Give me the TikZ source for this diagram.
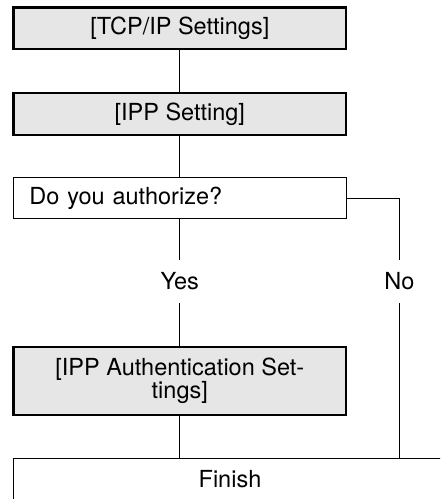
\documentclass[tikz,border=0pt]{standalone}
\usepackage{fontspec}
\setmainfont{TeX Gyre Heros}
\definecolor{boxgray}{RGB}{230, 230, 230}
\usepackage{tikz}
\usetikzlibrary{positioning, calc}

\begin{document}
\begin{tikzpicture}[x=1pt, y=-1pt,
    every node/.style={font=\fontsize{23.5}{22}\selectfont},
    setbox/.style={draw, line width=2.3pt, fill=boxgray, minimum width=332.5pt, inner sep=0pt, align=center},
    askbox/.style={draw, line width=1pt, minimum width=332.7pt, minimum height=40.4pt, text width=300.7pt, inner xsep=16pt, inner ysep=0pt, align=left},
    answer/.style={inner sep=0pt, minimum height=43pt},
    link/.style={line width=1pt}]
      \useasboundingbox (0,0) rectangle (440,499);
      \clip (0,0) rectangle (440,499);
      \node[setbox, minimum height=41.7pt] (tcpip) at (179.8,28.3) {[TCP/IP Settings]};
      \node[setbox, minimum height=41.6pt] (ipp) at (179.8,114) {[IPP Setting]};
      \node[askbox] (ask) at (179.8,198) {Do you authorize?};
      \node[answer] (yes) at (179.8,281.5) {Yes};
      \node[answer] (no) at (399.5,281.5) {No};
      \node[setbox, minimum height=68pt] (auth) at (179.8,381.2) {[IPP Authentication Set-\\tings]};
      \node[draw, line width=1pt, minimum width=434pt, minimum height=42pt, inner sep=0pt] (finish) at (230,479.5) {Finish};
      \draw[link] (tcpip) -- (ipp);
      \draw[link] (ipp) -- (ask);
      \draw[link] (ask) -- (yes);
      \draw[link] (yes) -- (auth);
      \draw[link] (ask.east) -| (no.north);
      \draw[link] (no.south) -- (no.south |- finish.north);
      \draw[link] (auth.south) -- (auth.south |- finish.north);
    \end{tikzpicture}
\end{document}
